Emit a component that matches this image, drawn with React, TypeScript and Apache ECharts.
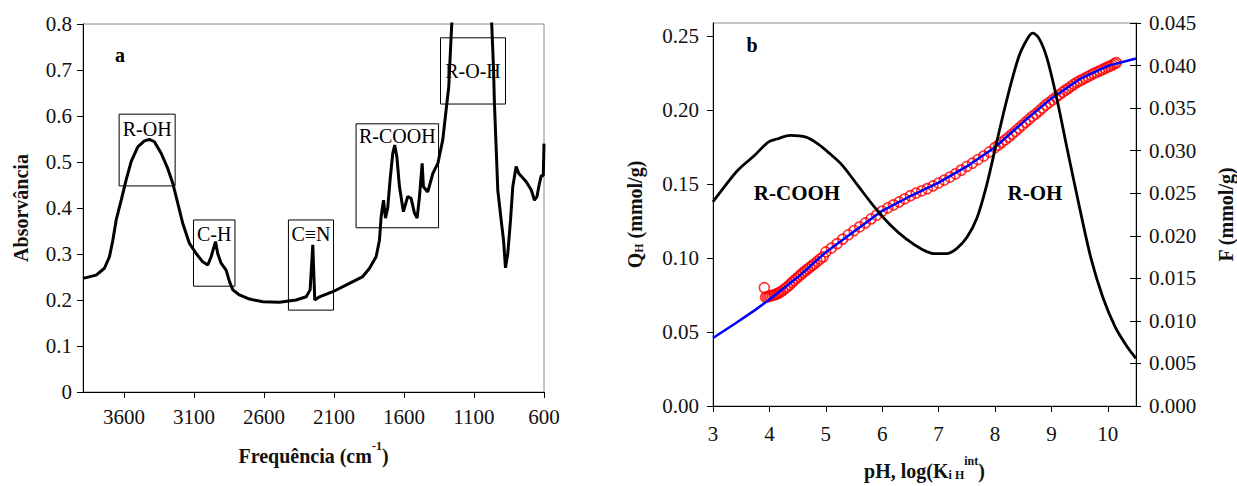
import React, { useEffect, useRef } from "react";
import * as echarts from "echarts";

// ---------- Panel a: IR spectrum ----------
const irWavenumber = [
  3892, 3798, 3739, 3703, 3679, 3655, 3619, 3584, 3548, 3501, 3453, 3418, 3382, 3334, 3287, 3251,
  3215, 3180, 3132, 3084, 3037, 3001, 2977, 2946, 2930, 2906, 2870, 2846, 2822, 2775, 2703, 2608,
  2489, 2370, 2298, 2270, 2251, 2237, 2203, 2108, 1965, 1894, 1846, 1799, 1775, 1763, 1746, 1732,
  1716, 1699, 1680, 1666, 1651, 1632, 1604, 1573, 1549, 1525, 1506, 1489, 1470, 1461, 1430, 1394,
  1358, 1323, 1299, 1280, 1268, 1259, 1230, 1150, 1050, 1000, 973, 961, 954, 941, 930, 906, 889,
  875, 859, 839, 823, 799, 780, 727, 691, 668, 650, 635, 620, 605, 600,
];
const irAbsorbance = [
  0.247, 0.254, 0.269, 0.294, 0.33, 0.374, 0.417, 0.461, 0.501, 0.533, 0.546, 0.549, 0.544, 0.519, 0.486, 0.454,
  0.41, 0.367, 0.323, 0.301, 0.283, 0.276, 0.294, 0.327, 0.301, 0.28, 0.265, 0.24, 0.222, 0.211, 0.202, 0.196,
  0.195, 0.2, 0.207, 0.222, 0.32, 0.2, 0.207, 0.218, 0.24, 0.251, 0.269, 0.294, 0.33, 0.381, 0.417, 0.378,
  0.4, 0.461, 0.519, 0.537, 0.512, 0.446, 0.392, 0.425, 0.421, 0.389, 0.378, 0.425, 0.497, 0.446, 0.435, 0.475,
  0.497, 0.548, 0.613, 0.664, 0.743, 0.798, 0.92, 1.0, 1.0, 0.92, 0.798, 0.707, 0.628, 0.526, 0.439, 0.374, 0.33,
  0.27, 0.3, 0.374, 0.446, 0.49, 0.475, 0.457, 0.439, 0.417, 0.425, 0.45, 0.47, 0.47, 0.54,
];
const irTicks = [600, 1100, 1600, 2100, 2600, 3100, 3600];

// annotation boxes (data coordinates)
const boxLabels = ["R-OH", "C-H", "C\u2261N", "R-COOH", "R-O-H"];
const boxXFrom = [3634, 3103, 2425, 1942, 1339];
const boxXTo = [3234, 2807, 2103, 1353, 875];
const boxYTop = [0.604, 0.374, 0.374, 0.583, 0.77];
const boxYBottom = [0.448, 0.23, 0.178, 0.357, 0.626];
const boxLabelPos = ["insideTop", "insideTop", "insideTop", "insideTop", "inside"];

// ---------- Panel b ----------
const fPH = [3.0, 3.16, 3.44, 3.73, 3.98, 4.15, 4.37, 4.65, 4.86, 5.08, 5.29, 5.58, 5.86, 6.14, 6.43, 6.71, 6.93,
  7.14, 7.32, 7.5, 7.68, 7.85, 8.03, 8.21, 8.42, 8.58, 8.67, 8.78, 8.92, 9.1, 9.28, 9.49, 9.7, 9.91, 10.13, 10.34, 10.5];
const fVal = [0.024, 0.0254, 0.0277, 0.0294, 0.031, 0.0314, 0.0318, 0.0316, 0.0308, 0.0296, 0.0283, 0.0258, 0.0234,
  0.0213, 0.0196, 0.0184, 0.0179, 0.0179, 0.0185, 0.0198, 0.0221, 0.0259, 0.031, 0.036, 0.041, 0.0432, 0.0438,
  0.0432, 0.0409, 0.036, 0.0302, 0.0236, 0.0174, 0.0128, 0.0093, 0.007, 0.0056];

const bluePH = [3.0, 3.4, 3.75, 4.0, 4.5, 5.0, 5.5, 6.0, 6.5, 7.0, 7.5, 8.0, 8.5, 9.0, 9.5, 10.0, 10.5];
const blueQ = [0.046, 0.056, 0.065, 0.072, 0.087, 0.104, 0.118, 0.132, 0.142, 0.151, 0.162, 0.175, 0.192, 0.208,
  0.221, 0.23, 0.235];

const qhPH = [
  3.91, 3.93, 3.96, 3.99, 4.02, 4.05, 4.08, 4.11, 4.14, 4.17, 4.2, 4.24, 4.28, 4.32, 4.36, 4.4, 4.44, 4.48,
  4.52, 4.56, 4.6, 4.64, 4.68, 4.72, 4.76, 4.8, 4.85, 4.9, 4.95, 5.0, 5.1, 5.2, 5.3, 5.4, 5.5, 5.6, 5.7, 5.8,
  5.9, 6.0, 6.1, 6.2, 6.3, 6.4, 6.5, 6.6, 6.7, 6.8, 6.9, 7.0, 7.1, 7.2, 7.3, 7.4, 7.5, 7.6, 7.7, 7.8, 7.9,
  8.0, 8.06, 8.12, 8.18, 8.24, 8.3, 8.36, 8.42, 8.48, 8.54, 8.6, 8.66, 8.72, 8.78, 8.84, 8.9, 8.96, 9.02,
  9.08, 9.14, 9.2, 9.25, 9.3, 9.35, 9.4, 9.45, 9.5, 9.55, 9.6, 9.65, 9.7, 9.75, 9.8, 9.85, 9.9, 9.95, 10.0,
  10.04, 10.08, 10.12, 10.15,
];
const qhVal = [
  0.08, 0.0735, 0.0738, 0.0742, 0.0745, 0.0748, 0.075, 0.0755, 0.076, 0.0765, 0.0772, 0.0782, 0.0795,
  0.0807, 0.082, 0.0835, 0.0848, 0.0862, 0.0876, 0.0889, 0.0902, 0.0914, 0.0926, 0.0938, 0.095, 0.0962,
  0.0978, 0.0994, 0.1008, 0.1042, 0.1068, 0.1098, 0.1128, 0.1158, 0.1186, 0.1212, 0.1238, 0.1265, 0.129,
  0.1318, 0.134, 0.136, 0.138, 0.1401, 0.1422, 0.144, 0.1455, 0.147, 0.1488, 0.1508, 0.1528, 0.1548, 0.157,
  0.1595, 0.162, 0.1642, 0.1667, 0.169, 0.1718, 0.1748, 0.1765, 0.1782, 0.18, 0.1818, 0.1838, 0.1858,
  0.1878, 0.1898, 0.1918, 0.1938, 0.1958, 0.1975, 0.1995, 0.2015, 0.2035, 0.2052, 0.207, 0.2088, 0.2105,
  0.2122, 0.2136, 0.2148, 0.2162, 0.2175, 0.2188, 0.2198, 0.2208, 0.2218, 0.2228, 0.2238, 0.2248, 0.2257,
  0.2265, 0.2274, 0.2283, 0.2292, 0.2299, 0.2306, 0.2314, 0.2322,
];
const phTicks = [3, 4, 5, 6, 7, 8, 9, 10];
const qTicks = [0, 0.05, 0.1, 0.15, 0.2, 0.25];

const FONT = "Liberation Serif";

export default function App() {
  const ref = useRef<HTMLDivElement>(null);
  useEffect(() => {
    if (!ref.current) return;
    const chart = echarts.init(ref.current, null, { renderer: "svg" });

    const labelStyle = { fontFamily: FONT, fontSize: 21, color: "#111" };
    const boldName = { fontFamily: FONT, fontSize: 20, fontWeight: "bold", color: "#111" };
    const richBase = {
      b: { fontFamily: FONT, fontSize: 20, fontWeight: "bold", color: "#111", lineHeight: 26, verticalAlign: "bottom" },
      sup: { fontFamily: FONT, fontSize: 12, fontWeight: "bold", color: "#111", lineHeight: 26, verticalAlign: "top" },
      sub: { fontFamily: FONT, fontSize: 12, fontWeight: "bold", color: "#111", lineHeight: 26, verticalAlign: "bottom" },
    };
    const blackLine = { show: true, lineStyle: { color: "#000", width: 1 } };

    const boxes = boxLabels.map((name, i) => [
      {
        name,
        xAxis: boxXFrom[i],
        yAxis: boxYTop[i],
        label: { position: boxLabelPos[i], distance: i === 3 ? 3 : 5 },
      },
      { xAxis: boxXTo[i], yAxis: boxYBottom[i] },
    ]);

    chart.setOption({
      animation: false,
      backgroundColor: "#fff",
      grid: [
        { left: 83, top: 24, width: 461, height: 368, show: true, borderColor: "#8a8a8a", borderWidth: 1 },
        { left: 713, top: 23, width: 429, height: 387, show: true, borderColor: "#8a8a8a", borderWidth: 1 },
      ],
      xAxis: [
        {
          type: "value",
          gridIndex: 0,
          min: 600,
          max: 3892,
          inverse: true,
          axisLine: blackLine,
          axisTick: { show: true, length: 6, lineStyle: { color: "#000" }, customValues: irTicks },
          axisLabel: { ...labelStyle, margin: 14, customValues: irTicks, formatter: (v: number) => String(v) },
          splitLine: { show: false },
          name: "{b|Frequência (cm}{sup|-1}{b|)}",
          nameLocation: "middle",
          nameGap: 48,
          nameTextStyle: { rich: richBase },
        },
        {
          type: "value",
          gridIndex: 1,
          min: 3,
          max: 10.5,
          axisLine: blackLine,
          axisTick: { show: true, length: 6, lineStyle: { color: "#000" }, customValues: phTicks },
          axisLabel: { ...labelStyle, margin: 17, customValues: phTicks, formatter: (v: number) => String(v) },
          splitLine: { show: false },
          name: "{b|pH, log(K}{sub|i H}{sup|int}{b|)}",
          nameLocation: "middle",
          nameGap: 49,
          nameTextStyle: { rich: richBase },
        },
      ],
      yAxis: [
        {
          type: "value",
          gridIndex: 0,
          min: 0,
          max: 0.8,
          interval: 0.1,
          axisLine: blackLine,
          axisTick: { show: true, length: 6, lineStyle: { color: "#000" } },
          axisLabel: { ...labelStyle, margin: 11, formatter: (v: number) => (v === 0 ? "0" : v.toFixed(1)) },
          splitLine: { show: false },
          name: "Absorvância",
          nameLocation: "middle",
          nameRotate: 90,
          nameGap: 52,
          nameTextStyle: boldName,
        },
        {
          type: "value",
          gridIndex: 1,
          position: "left",
          min: 0,
          max: 0.259,
          axisLine: blackLine,
          axisTick: { show: true, length: 6, lineStyle: { color: "#000" }, customValues: qTicks },
          axisLabel: { ...labelStyle, margin: 14, customValues: qTicks, formatter: (v: number) => v.toFixed(2) },
          splitLine: { show: false },
          name: "{b|Q}{sub|H}{b| (mmol/g)}",
          nameLocation: "middle",
          nameRotate: 90,
          nameGap: 68,
          nameTextStyle: { rich: richBase },
        },
        {
          type: "value",
          gridIndex: 1,
          position: "right",
          min: 0,
          max: 0.045,
          interval: 0.005,
          axisLine: blackLine,
          axisTick: { show: true, length: 5, lineStyle: { color: "#000" } },
          axisLabel: { ...labelStyle, margin: 13, formatter: (v: number) => v.toFixed(3) },
          splitLine: { show: false },
          name: "F (mmol/g)",
          nameLocation: "middle",
          nameRotate: 90,
          nameGap: 80,
          nameTextStyle: boldName,
        },
        {
          type: "value",
          gridIndex: 1,
          position: "right",
          min: 0,
          max: 0.045,
          interval: 0.005,
          axisLine: { show: false },
          axisTick: { show: true, inside: true, length: 6, lineStyle: { color: "#000" } },
          axisLabel: { show: false },
          splitLine: { show: false },
        },
      ],
      graphic: [
        { type: "text", x: 120, y: 55, style: { text: "a", font: `bold 20px "${FONT}"`, fill: "#000", align: "center", verticalAlign: "middle" } },
        { type: "text", x: 752, y: 45, style: { text: "b", font: `bold 20px "${FONT}"`, fill: "#000", align: "center", verticalAlign: "middle" } },
        { type: "text", x: 797, y: 193, style: { text: "R-COOH", font: `bold 21px "${FONT}"`, fill: "#000", align: "center", verticalAlign: "middle" } },
        { type: "text", x: 1035, y: 193, style: { text: "R-OH", font: `bold 21px "${FONT}"`, fill: "#000", align: "center", verticalAlign: "middle" } },
      ],
      series: [
        {
          type: "line",
          xAxisIndex: 0,
          yAxisIndex: 0,
          data: irWavenumber.map((w, i) => [w, irAbsorbance[i]]),
          showSymbol: false,
          lineStyle: { color: "#000", width: 3 },
          clip: true,
          markArea: {
            silent: true,
            itemStyle: { color: "rgba(0,0,0,0)", borderColor: "#000", borderWidth: 1 },
            label: { fontFamily: FONT, fontSize: 20, color: "#000" },
            data: boxes,
          },
        },
        {
          type: "line",
          xAxisIndex: 1,
          yAxisIndex: 1,
          data: bluePH.map((p, i) => [p, blueQ[i]]),
          showSymbol: false,
          lineStyle: { color: "#0000ff", width: 2.5 },
        },
        {
          type: "scatter",
          xAxisIndex: 1,
          yAxisIndex: 1,
          data: qhPH.map((p, i) => [p, qhVal[i]]),
          symbol: "circle",
          symbolSize: 10,
          itemStyle: { color: "rgba(0,0,0,0)", borderColor: "#ff0000", borderWidth: 1.6 },
        },
        {
          type: "line",
          xAxisIndex: 1,
          yAxisIndex: 2,
          data: fPH.map((p, i) => [p, fVal[i]]),
          showSymbol: false,
          smooth: 0.3,
          lineStyle: { color: "#000", width: 2.8 },
        },
      ],
    });
    return () => chart.dispose();
  }, []);
  return (
    <div
      ref={ref}
      style={{ position: "fixed", left: 0, top: 0, width: 1237, height: 486, background: "#fff" }}
    />
  );
}
